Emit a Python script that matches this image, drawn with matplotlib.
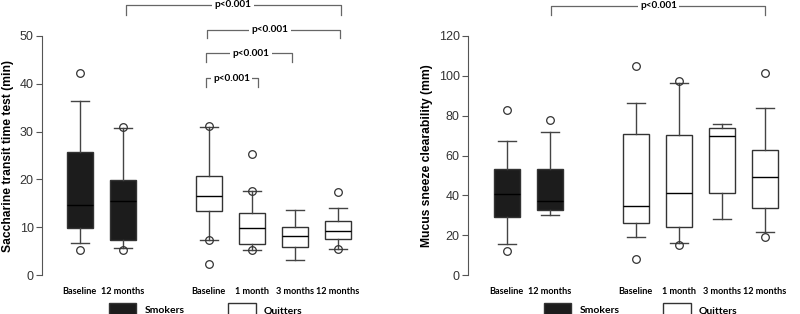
import matplotlib
matplotlib.use("Agg")
import matplotlib.pyplot as plt
from matplotlib.patches import Patch

# group labels and box positions (gap between smokers and quitters)
labels = ["Baseline", "12 months", "Baseline", "1 month", "3 months", "12 months"]
positions = [1, 2, 4, 5, 6, 7]
is_smoker = [True, True, False, False, False, False]

# saccharine transit time (min): whislo, q1, med, q3, whishi, fliers
stt_whislo = [6.7, 5.6, 7.3, 5.3, 3.2, 5.4]
stt_q1 = [9.8, 7.3, 13.3, 6.5, 5.9, 7.5]
stt_med = [14.6, 15.4, 16.5, 9.8, 8.1, 9.3]
stt_q3 = [25.8, 19.8, 20.7, 13.0, 10.1, 11.3]
stt_whishi = [36.3, 30.7, 31.0, 17.5, 13.5, 14.0]
stt_fliers = [[42.2, 5.2], [31.0, 5.3], [31.2, 7.3, 2.2], [25.4, 17.5, 5.3], [], [17.3, 5.4]]

# mucus sneeze clearability (mm)
msc_whislo = [15.5, 30.0, 19.0, 16.0, 28.0, 21.5]
msc_q1 = [29.2, 32.5, 26.0, 24.0, 41.0, 33.5]
msc_med = [40.5, 37.0, 34.5, 41.0, 70.0, 49.0]
msc_q3 = [53.0, 53.0, 71.0, 70.3, 74.0, 62.7]
msc_whishi = [67.5, 72.0, 86.5, 96.5, 76.0, 84.0]
msc_fliers = [[83.0, 12.0], [78.0], [105.0, 8.0], [97.5, 15.0], [], [101.5, 19.0]]

# significance brackets: x1, x2, y, drop, text x
stt_brackets = [(2.08, 7.07, 56.5, 2.1, 4.56), (3.95, 7.05, 51.3, 1.7, 5.42),
                (3.93, 5.93, 46.4, 1.8, 4.98), (3.93, 5.14, 41.2, 1.9, 4.53)]
msc_brackets = [(2.02, 7.0, 135.2, 4.5, 4.53)]

plt.rcParams['font.family'] = ['Liberation Sans', 'DejaVu Sans']

fig = plt.figure(figsize=(8, 3.14), dpi=100)
W = 320 / 800.0
ax1 = fig.add_axes([42 / 800.0, 1 - 275 / 314.0, W, 239 / 314.0])
ax2 = fig.add_axes([468 / 800.0, 1 - 275 / 314.0, W, 239 / 314.0])

bold_font = dict(family=['Lato', 'DejaVu Sans'], weight='bold')


def draw_panel(ax, whislo, q1, med, q3, whishi, fliers, ymax, ystep, ylabel, brackets,
               xleft, legx):
    stats = []
    for i in range(len(labels)):
        stats.append(dict(whislo=whislo[i], q1=q1[i], med=med[i], q3=q3[i],
                          whishi=whishi[i], fliers=fliers[i]))
    for i, st in enumerate(stats):
        fill = '#1c1c1c' if is_smoker[i] else 'white'
        ax.bxp([st], positions=[positions[i]], widths=0.6, patch_artist=True,
               showfliers=True, capwidths=0.42,
               boxprops=dict(facecolor=fill, edgecolor='#333333', linewidth=1.0),
               medianprops=dict(color='black', linewidth=1.0),
               whiskerprops=dict(color='#444444', linewidth=1.0),
               capprops=dict(color='#444444', linewidth=1.0),
               flierprops=dict(marker='o', markersize=5.5, markerfacecolor='none',
                               markeredgecolor='#333333', markeredgewidth=0.9))
    ax.set_xlim(xleft, xleft + 320 / 43.0)
    ax.set_ylim(0, ymax)
    ax.set_yticks(range(0, ymax + 1, ystep))
    ax.set_xticks(positions)
    ax.set_xticklabels(labels, fontsize=6.6, **bold_font)
    ax.tick_params(axis='x', length=0, pad=9)
    ax.tick_params(axis='y', length=4, color='#555555', labelsize=9, labelcolor='#333333', pad=2)
    for s in ['top', 'right', 'bottom']:
        ax.spines[s].set_visible(False)
    ax.spines['left'].set_color('#555555')
    ax.set_ylabel(ylabel, fontsize=8.7, fontweight='bold', labelpad=4)

    for x1, x2, y, d, tx in brackets:
        ax.plot([x1, x1, x2, x2], [y - d, y, y, y - d], color='#666666', lw=0.9,
                clip_on=False)
        ax.text(tx, y, 'p<0.001', ha='center', va='center', fontsize=7.2,
                bbox=dict(facecolor='white', edgecolor='none', pad=1.5), **bold_font)

    handles = [Patch(facecolor='#1c1c1c', edgecolor='#333333', label='Smokers'),
               Patch(facecolor='white', edgecolor='#333333', label='Quitters')]
    ax.legend(handles=handles, loc='upper left', bbox_to_anchor=(legx, -0.08),
              ncol=2, frameon=False, handlelength=2.6, handleheight=1.5,
              columnspacing=4.2, handletextpad=0.8,
              prop=dict(family=['Lato', 'DejaVu Sans'], weight='bold', size=7.5))


draw_panel(ax1, stt_whislo, stt_q1, stt_med, stt_q3, stt_whishi, stt_fliers, 50, 10,
           'Saccharine transit time test (min)', stt_brackets, 0.12, 0.181)
draw_panel(ax2, msc_whislo, msc_q1, msc_med, msc_q3, msc_whishi, msc_fliers, 120, 20,
           'Mucus sneeze clearability (mm)', msc_brackets, 0.1, 0.209)

fig.savefig('out.png', dpi=100)
